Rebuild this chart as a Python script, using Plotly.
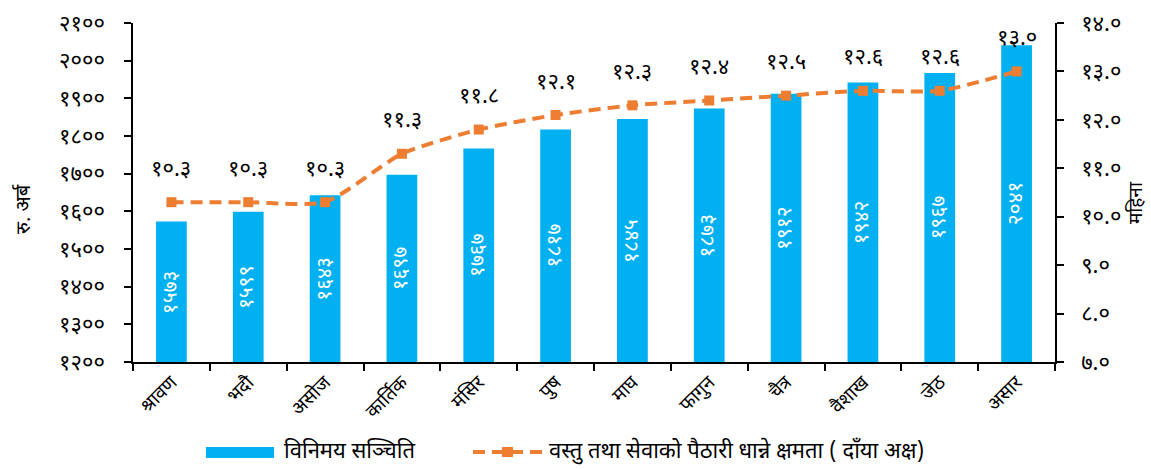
import plotly.graph_objects as go

months = ["श्रावण", "भदौ", "असोज", "कार्तिक", "मंसिर", "पुष", "माघ", "फागुन", "चैत्र", "वैशाख", "जेठ", "असार"]
reserves = [1573, 1599, 1643, 1697, 1767, 1817, 1845, 1873, 1912, 1942, 1967, 2041]
import_months = [10.3, 10.3, 10.3, 11.3, 11.8, 12.1, 12.3, 12.4, 12.5, 12.6, 12.6, 13.0]
left_ticks = [1200, 1300, 1400, 1500, 1600, 1700, 1800, 1900, 2000, 2100]
right_ticks = [7.0, 8.0, 9.0, 10.0, 11.0, 12.0, 13.0, 14.0]
bar_name = "विनिमय सञ्चिति"
line_name = "वस्तु तथा सेवाको पैठारी धान्ने क्षमता ( दाँया अक्ष)"
left_title = "रु. अर्ब"
right_title = "महिना"

DIG = str.maketrans("0123456789", "०१२३४५६७८९")
def dev(s):
    return str(s).translate(DIG)

FONT = "Noto Sans Devanagari, Noto Serif Devanagari, Lohit Devanagari, Noto Sans, sans-serif"
BLUE = "#00B0F0"
ORANGE = "#ED7D31"

W, H = 1151, 469
L, R, T, B = 133, 96, 23, 107
PW, PH = W - L - R, H - T - B
Y_MIN, Y_MAX = 1200, 2100
def px(x):
    return (x - L) / PW
def py(y):
    return (H - B - y) / PH

fig = go.Figure()
fig.add_trace(go.Bar(
    x=months, y=reserves, marker=dict(color=BLUE, line=dict(width=0)),
    width=0.4, name=bar_name, showlegend=False, yaxis="y",
))
fig.add_trace(go.Scatter(
    x=months, y=import_months, mode="lines+markers",
    line=dict(color=ORANGE, width=4, dash="12px,7px", shape="spline", smoothing=0.6),
    marker=dict(symbol="square", size=10, color=ORANGE),
    name=line_name, yaxis="y2", showlegend=False,
))

# bar value labels, vertical, centred in each bar
for m, v in zip(months, reserves):
    fig.add_annotation(x=m, y=(Y_MIN + v) / 2, xref="x", yref="y", text=dev(v),
                       textangle=-90, showarrow=False, xanchor="center", yanchor="middle",
                       font=dict(size=21, color="white", family=FONT))

# line value labels above points
for m, v in zip(months, import_months):
    fig.add_annotation(x=m, y=v, xref="x", yref="y2", text=dev(f"{v:.1f}"),
                       showarrow=False, yshift=32, xanchor="center", yanchor="middle",
                       font=dict(size=22, color="black", family=FONT))

# axis titles
fig.add_annotation(x=px(25), y=py(209), xref="paper", yref="paper", text=left_title,
                   textangle=-90, showarrow=False, xanchor="center", yanchor="middle",
                   font=dict(size=20, family=FONT))
fig.add_annotation(x=px(1138), y=py(203), xref="paper", yref="paper", text=right_title,
                   textangle=-90, showarrow=False, xanchor="center", yanchor="middle",
                   font=dict(size=19, family=FONT))

# custom legend
fig.add_shape(type="rect", xref="paper", yref="paper", x0=px(206), x1=px(274),
              y0=py(458), y1=py(447), fillcolor=BLUE, line=dict(width=0))
fig.add_annotation(x=px(282), y=py(452), xref="paper", yref="paper", text=bar_name,
                   xanchor="left", yanchor="middle", showarrow=False,
                   font=dict(size=22, family=FONT))
fig.add_shape(type="line", xref="paper", yref="paper", x0=px(473), x1=px(542),
              y0=py(452), y1=py(452), line=dict(color=ORANGE, width=4, dash="12px,7px"))
fig.add_shape(type="rect", xref="paper", yref="paper", x0=px(502), x1=px(513),
              y0=py(457), y1=py(447), fillcolor=ORANGE, line=dict(width=0))
fig.add_annotation(x=px(547), y=py(452), xref="paper", yref="paper", text=line_name,
                   xanchor="left", yanchor="middle", showarrow=False,
                   font=dict(size=22, family=FONT))

axis_common = dict(showline=True, linecolor="black", linewidth=1.5, ticks="outside",
                   ticklen=7, tickwidth=1.5, tickcolor="black", showgrid=False,
                   zeroline=False, automargin=False)

fig.update_layout(
    width=W, height=H,
    margin=dict(l=L, r=R, t=T, b=B),
    plot_bgcolor="white", paper_bgcolor="white",
    font=dict(family=FONT, size=17, color="black"),
    showlegend=False,
    xaxis=dict(type="category", tickson="boundaries", tickangle=-45, range=[-0.5, 11.5],
               tickfont=dict(size=19, family=FONT), **axis_common),
    yaxis=dict(range=[Y_MIN, Y_MAX], tickvals=left_ticks, ticktext=[dev(t) for t in left_ticks],
               tickfont=dict(size=22, family=FONT), ticklabelstandoff=15, **axis_common),
    yaxis2=dict(range=[7, 14], overlaying="y", side="right",
                tickvals=right_ticks, ticktext=[dev(f"{t:.1f}") for t in right_ticks],
                tickfont=dict(size=22, family=FONT), ticklabelstandoff=13, **axis_common),
)

fig.write_html("out.html", config={"displayModeBar": False},
               post_script="document.body.style.margin='0';document.body.style.overflow='hidden';")
